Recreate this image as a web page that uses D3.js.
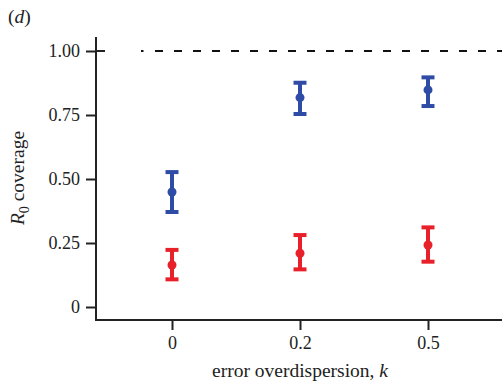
<!DOCTYPE html>
<html>
<head>
<meta charset="utf-8">
<script src="https://cdn.jsdelivr.net/npm/d3@7"></script>
<style>
  body { margin: 0; background: #fff; }
  text { font-family: "Liberation Serif", "DejaVu Serif", serif; fill: #222; }
</style>
</head>
<body>
<svg id="chart" width="502" height="382"></svg>
<script>
// k values on the x axis
const categories = ["0", "0.2", "0.5"]
const yTicks = [0, 0.25, 0.5, 0.75, 1]

// R0 coverage, mean with lower / upper bounds
const blueMean = [0.449, 0.818, 0.848]
const blueLow = [0.371, 0.754, 0.785]
const blueHigh = [0.527, 0.876, 0.897]

const redMean = [0.164, 0.21, 0.242]
const redLow = [0.108, 0.147, 0.177]
const redHigh = [0.223, 0.281, 0.311]

const svg = d3.select("#chart")

const x = d3.scalePoint()
  .domain(categories)
  .range([172, 428])

const y = d3.scaleLinear()
  .domain([0, 1])
  .range([307, 51])

// axes
const yAxis = d3.axisLeft(y)
  .tickValues(yTicks)
  .tickFormat(d => d === 0 ? "0" : d3.format(".2f")(d))
  .tickSize(10)
  .tickPadding(6)

const gy = svg.append("g")
  .attr("transform", "translate(96,0)")
  .call(yAxis)
gy.select(".domain").remove()
gy.selectAll("line").attr("stroke", "#222").attr("stroke-width", 2)
gy.selectAll("text").style("font-size", "18px").attr("fill", "#222")

// tick at 1.00 crosses the axis
svg.append("line")
  .attr("x1", 96).attr("x2", 105)
  .attr("y1", y(1)).attr("y2", y(1))
  .attr("stroke", "#222").attr("stroke-width", 2)

svg.append("line")
  .attr("x1", 96).attr("x2", 96)
  .attr("y1", 37).attr("y2", 321)
  .attr("stroke", "#222").attr("stroke-width", 2)

const xAxis = d3.axisBottom(x)
  .tickSize(10)
  .tickPadding(6)

const gx = svg.append("g")
  .attr("transform", "translate(0,320)")
  .call(xAxis)
gx.select(".domain").remove()
gx.selectAll("line").attr("stroke", "#222").attr("stroke-width", 2)
gx.selectAll("text").style("font-size", "18px").attr("fill", "#222")

svg.append("line")
  .attr("x1", 95).attr("x2", 502)
  .attr("y1", 320).attr("y2", 320)
  .attr("stroke", "#222").attr("stroke-width", 2)

// reference line at full coverage: a dot, then dashes
svg.append("line")
  .attr("x1", 141).attr("x2", 143.5)
  .attr("y1", y(1)).attr("y2", y(1))
  .attr("stroke", "#111").attr("stroke-width", 2)
svg.append("line")
  .attr("x1", 155).attr("x2", 502)
  .attr("y1", y(1)).attr("y2", y(1))
  .attr("stroke", "#111").attr("stroke-width", 2)
  .attr("stroke-dasharray", "8,11")

function drawSeries(mean, low, high, color) {
  const g = svg.append("g")
  categories.forEach((c, i) => {
    const cx = x(c)
    g.append("line")
      .attr("x1", cx).attr("x2", cx)
      .attr("y1", y(low[i])).attr("y2", y(high[i]))
      .attr("stroke", color).attr("stroke-width", 4)
    ;[low[i], high[i]].forEach(v => {
      g.append("line")
        .attr("x1", cx - 6.5).attr("x2", cx + 6.5)
        .attr("y1", y(v)).attr("y2", y(v))
        .attr("stroke", color).attr("stroke-width", 4)
    })
    g.append("circle")
      .attr("cx", cx).attr("cy", y(mean[i]))
      .attr("r", 4.5)
      .attr("fill", color)
  })
}

drawSeries(blueMean, blueLow, blueHigh, "#2e4ca6")
drawSeries(redMean, redLow, redHigh, "#e8202a")

// labels
svg.append("text")
  .attr("x", 300).attr("y", 377)
  .attr("text-anchor", "middle")
  .style("font-size", "19.5px")
  .html('error overdispersion, <tspan font-style="italic">k</tspan>')

svg.append("text")
  .attr("transform", "translate(24,178) rotate(-90)")
  .attr("text-anchor", "middle")
  .style("font-size", "19.5px")
  .html('<tspan font-style="italic">R</tspan><tspan dy="5" font-size="14px">0</tspan><tspan dy="-5"> coverage</tspan>')

svg.append("text")
  .attr("x", 8).attr("y", 23)
  .style("font-size", "19.5px")
  .html('(<tspan font-style="italic">d</tspan>)')
</script>
</body>
</html>
